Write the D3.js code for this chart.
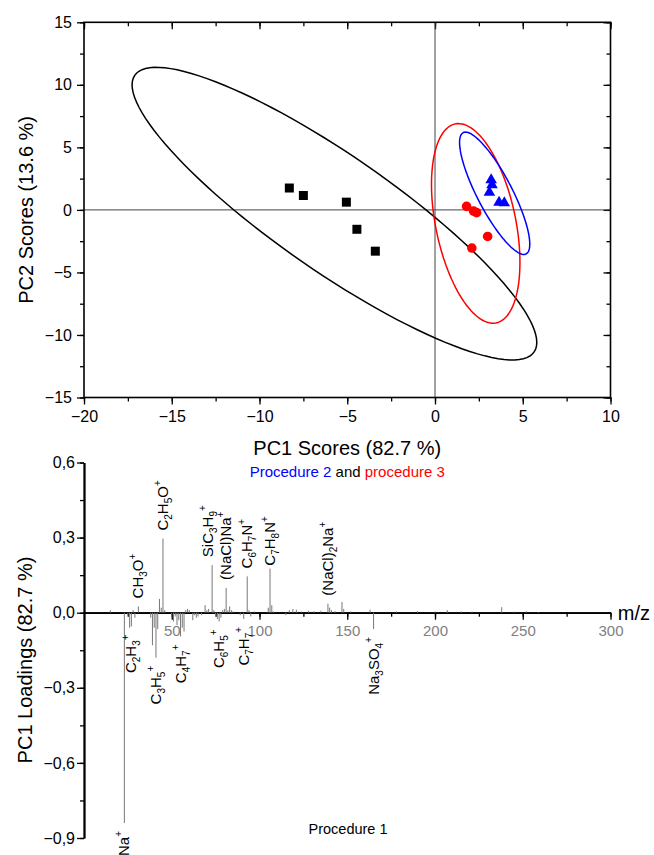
<!DOCTYPE html>
<html>
<head>
<meta charset="utf-8">
<script src="https://cdn.jsdelivr.net/npm/d3@7"></script>
<style>
  body { margin: 0; background: #fff; }
  text { font-family: "Liberation Sans", Arial, sans-serif; }
</style>
</head>
<body>
<div id="chart"></div>
<script>
// ---- score plot data (PC1, PC2) ----
const proc1Scores = [[-8.3, 1.75], [-7.5, 1.15], [-5.05, 0.62], [-4.45, -1.55], [-3.4, -3.3]];
const proc2Scores = [[3.2, 2.4], [3.25, 2.0], [3.1, 1.4], [3.65, 0.6], [3.95, 0.55]];
const proc3Scores = [[1.8, 0.28], [2.2, -0.1], [2.37, -0.22], [3.0, -2.12], [2.1, -3.05]];

// confidence ellipses: cx, cy, half-range x, half-range y, correlation
const ellipse1 = [-5.73, -0.3, 11.53, 11.7, -0.88];
const ellipse2 = [3.4, 1.33, 2.0, 4.89, -0.83];
const ellipse3 = [2.32, -1.08, 2.52, 7.98, -0.39];

const scoreXTicks = [-20, -15, -10, -5, 0, 5, 10];
const scoreYTicks = [-15, -10, -5, 0, 5, 10, 15];

// ---- loadings data [m/z, PC1 loading] ----
const loadings = [
  [15, 0.01], [23, -0.84], [25, -0.015], [26, -0.06], [27, -0.055], [28, 0.01], [29, -0.02],
  [31, 0.025], [38, -0.02], [39, -0.13], [40, -0.06], [41, -0.18], [42, -0.065], [43, 0.055],
  [44, 0.02], [45, 0.296], [46, 0.01], [50, -0.02], [51, -0.035], [52, -0.015], [53, -0.05],
  [54, -0.03], [55, -0.095], [56, -0.06], [57, -0.075], [58, 0.01], [59, 0.015], [60, 0.01],
  [62, -0.03], [63, -0.01], [64, -0.02], [65, -0.015], [67, -0.01], [69, 0.03], [70, 0.01],
  [71, 0.015], [73, 0.19], [74, 0.01], [75, -0.015], [76, -0.025], [77, -0.035], [78, -0.02],
  [79, 0.01], [80, 0.015], [81, 0.099], [82, 0.01], [83, 0.025], [84, 0.01], [85, 0.005],
  [89, -0.01], [91, -0.025], [93, 0.145], [94, 0.01], [95, -0.015], [97, 0.005], [105, 0.02],
  [106, 0.176], [107, 0.03], [108, 0.005], [115, -0.01], [117, 0.01], [119, 0.015], [121, 0.012],
  [124, 0.005], [128, 0.008], [131, 0.006], [135, 0.008], [139, 0.036], [140, 0.02], [141, 0.01],
  [143, 0.006], [147, 0.043], [148, 0.015], [152, 0.005], [163, 0.012], [165, -0.065],
  [178, 0.005], [190, 0.006], [200, 0.005], [207, 0.01], [215, 0.005], [221, 0.004],
  [238, 0.022], [245, 0.004], [252, 0.006], [259, 0.003]
];

// peak assignments ( _x = subscript, ^x = superscript )
const peakLabels = [
  [23, "Na^+"], [27, "C_2H_3^+"], [31, "CH_3O^+"], [41, "C_3H_5^+"], [45, "C_2H_5O^+"],
  [55, "C_4H_7^+"], [73, "SiC_3H_9^+"], [77, "C_6H_5^+"], [81, "(NaCl)Na^+"], [91, "C_7H_7^+"],
  [93, "C_6H_7N^+"], [106, "C_7H_8N^+"], [139, "(NaCl)_2Na^+"], [165, "Na_3SO_4^+"]
];

const loadXTicks = [50, 100, 150, 200, 250, 300];
const loadYTicks = [-0.9, -0.6, -0.3, 0.0, 0.3, 0.6];

// ---- layout ----
const W = 654, H = 855;
const svg = d3.select("#chart").append("svg").attr("width", W).attr("height", H);
svg.append("rect").attr("width", W).attr("height", H).attr("fill", "#fff");

const fmtComma = d => d3.format(".1f")(d).replace(".", ",");
// small hand nudges for crowded labels
const labelNudge = { "SiC_3H_9^+": [-4, 0], "C_7H_8N^+": [0, 5] };

/* ================= score plot ================= */
const x1 = d3.scaleLinear().domain([-20, 10]).range([84, 610.5]);
const y1 = d3.scaleLinear().domain([-15, 15]).range([397.5, 22.3]);

const gTop = svg.append("g");
const minorX1 = d3.range(-20, 10.01, 2.5);
const minorY1 = d3.range(-15, 15.01, 2.5);

// bottom
gTop.append("g").attr("transform", `translate(0,${y1(-15)})`)
  .call(d3.axisBottom(x1).tickValues(minorX1).tickSize(4).tickFormat(""));
gTop.append("g").attr("transform", `translate(0,${y1(-15)})`)
  .call(d3.axisBottom(x1).tickValues(scoreXTicks).tickSize(7).tickPadding(6))
  .selectAll("text").attr("font-size", 16).attr("fill", "#000");
// top (ticks point down)
gTop.append("g").attr("transform", `translate(0,${y1(15)})`)
  .call(d3.axisTop(x1).tickValues(minorX1).tickSize(-4).tickFormat(""));
gTop.append("g").attr("transform", `translate(0,${y1(15)})`)
  .call(d3.axisTop(x1).tickValues(scoreXTicks).tickSize(-7).tickFormat(""));
// left
gTop.append("g").attr("transform", `translate(${x1(-20)},0)`)
  .call(d3.axisLeft(y1).tickValues(minorY1).tickSize(4).tickFormat(""));
gTop.append("g").attr("transform", `translate(${x1(-20)},0)`)
  .call(d3.axisLeft(y1).tickValues(scoreYTicks).tickSize(7).tickPadding(5))
  .selectAll("text").attr("font-size", 16).attr("fill", "#000");
// right (ticks point left)
gTop.append("g").attr("transform", `translate(${x1(10)},0)`)
  .call(d3.axisRight(y1).tickValues(minorY1).tickSize(-4).tickFormat(""));
gTop.append("g").attr("transform", `translate(${x1(10)},0)`)
  .call(d3.axisRight(y1).tickValues(scoreYTicks).tickSize(-7).tickFormat(""));
gTop.selectAll(".domain").remove();
gTop.selectAll(".tick line").attr("stroke", "#000").attr("stroke-width", 1.3);

// zero lines
gTop.append("line").attr("x1", x1(-20)).attr("x2", x1(10)).attr("y1", y1(0)).attr("y2", y1(0))
  .attr("stroke", "#444").attr("stroke-width", 1);
gTop.append("line").attr("x1", x1(0)).attr("x2", x1(0)).attr("y1", y1(15)).attr("y2", y1(-15))
  .attr("stroke", "#444").attr("stroke-width", 1);

// frame
gTop.append("rect").attr("x", x1(-20)).attr("y", y1(15))
  .attr("width", x1(10) - x1(-20)).attr("height", y1(-15) - y1(15))
  .attr("fill", "none").attr("stroke", "#000").attr("stroke-width", 1.6);

// ellipses
function ellipsePath(e) {
  const [cx, cy, rx, ry, r] = e;
  const phi = Math.acos(r);
  const pts = d3.range(0, 361, 3).map(a => {
    const t = a * Math.PI / 180;
    return [x1(cx + rx * Math.cos(t)), y1(cy + ry * Math.cos(t - phi))];
  });
  return d3.line()(pts) + "Z";
}
[[ellipse1, "#000"], [ellipse3, "#ff0000"], [ellipse2, "#0000ff"]].forEach(([e, c]) => {
  gTop.append("path").attr("d", ellipsePath(e)).attr("fill", "none")
    .attr("stroke", c).attr("stroke-width", 1.5);
});

// markers
gTop.append("g").selectAll("path").data(proc1Scores).join("path")
  .attr("transform", d => `translate(${x1(d[0])},${y1(d[1])})`)
  .attr("d", d3.symbol(d3.symbolSquare, 81)).attr("fill", "#000");
gTop.append("g").selectAll("path").data(proc3Scores).join("path")
  .attr("transform", d => `translate(${x1(d[0])},${y1(d[1])})`)
  .attr("d", d3.symbol(d3.symbolCircle, 72)).attr("fill", "#ff0000");
gTop.append("g").selectAll("path").data(proc2Scores).join("path")
  .attr("transform", d => `translate(${x1(d[0])},${y1(d[1])})`)
  .attr("d", d3.symbol(d3.symbolTriangle, 58)).attr("fill", "#0000ff");

// titles
svg.append("text").attr("x", (x1(-20) + x1(10)) / 2).attr("y", 455)
  .attr("text-anchor", "middle").attr("font-size", 20).text("PC1 Scores (82.7 %)");
svg.append("text").attr("transform", `translate(33,${(y1(15) + y1(-15)) / 2}) rotate(-90)`)
  .attr("text-anchor", "middle").attr("font-size", 20).text("PC2 Scores (13.6 %)");

const legendText = svg.append("text").attr("x", (x1(-20) + x1(10)) / 2).attr("y", 477)
  .attr("text-anchor", "middle").attr("font-size", 15);
legendText.append("tspan").attr("fill", "#0000ff").text("Procedure 2");
legendText.append("tspan").attr("fill", "#000").text(" and ");
legendText.append("tspan").attr("fill", "#ff0000").text("procedure 3");

/* ================= loadings plot ================= */
const x2 = d3.scaleLinear().domain([0, 300]).range([84, 610.5]);
const y2 = d3.scaleLinear().domain([-0.9, 0.6]).range([838, 462.5]);

const gBot = svg.append("g");

// y axis
gBot.append("g").attr("transform", `translate(${x2(0)},0)`)
  .call(d3.axisLeft(y2).tickValues(d3.range(-0.9, 0.61, 0.15)).tickSize(4).tickFormat("").tickSizeOuter(0));
gBot.append("g").attr("transform", `translate(${x2(0)},0)`)
  .call(d3.axisLeft(y2).tickValues(loadYTicks).tickSize(7).tickPadding(2).tickFormat(fmtComma).tickSizeOuter(0))
  .selectAll("text").attr("font-size", 16).attr("fill", "#000");

// x axis at zero
gBot.append("g").attr("transform", `translate(0,${y2(0)})`)
  .call(d3.axisBottom(x2).tickValues(d3.range(25, 301, 25)).tickSize(4).tickFormat("").tickSizeOuter(0));
gBot.append("g").attr("transform", `translate(0,${y2(0)})`)
  .call(d3.axisBottom(x2).tickValues(loadXTicks).tickSize(7).tickPadding(6).tickSizeOuter(0))
  .selectAll("text").attr("font-size", 15).attr("fill", "#808080");
gBot.selectAll(".domain").attr("stroke", "#000").attr("stroke-width", 1.8);
gBot.selectAll(".tick line").attr("stroke", "#000").attr("stroke-width", 1.3);

// bars
gBot.append("g").selectAll("line").data(loadings).join("line")
  .attr("x1", d => x2(d[0])).attr("x2", d => x2(d[0]))
  .attr("y1", y2(0)).attr("y2", d => y2(d[1]))
  .attr("stroke", "#777").attr("stroke-width", 1);

// peak labels
const valueOf = new Map(loadings);
function formula(textSel, f) {
  let shift = 0;
  for (let i = 0; i < f.length; i++) {
    let ch = f[i], target = 0, size = 15;
    if (ch === "_" || ch === "^") {
      target = ch === "_" ? 4 : -7;
      ch = f[++i];
      size = 10;
    } else {
      let j = i;
      while (j + 1 < f.length && f[j + 1] !== "_" && f[j + 1] !== "^") j++;
      ch = f.slice(i, j + 1);
      i = j;
    }
    textSel.append("tspan").attr("dy", target - shift).attr("font-size", size).text(ch);
    shift = target;
  }
}
peakLabels.forEach(([mz, f]) => {
  const v = valueOf.get(mz);
  const nud = labelNudge[f] || [0, 0];
  const px = x2(mz) + 5 + nud[0];
  const py = v >= 0 ? y2(v) - 8 + nud[1] : y2(v) + 8 + nud[1];
  const t = gBot.append("text")
    .attr("transform", `translate(${px},${py}) rotate(-90)`)
    .attr("text-anchor", v >= 0 ? "start" : "end")
    .attr("font-size", 15).attr("fill", "#000");
  formula(t, f);
});

// labels
svg.append("text").attr("x", 650).attr("y", 620).attr("text-anchor", "end")
  .attr("font-size", 20).text("m/z");
svg.append("text").attr("transform", `translate(32,660) rotate(-90)`)
  .attr("text-anchor", "middle").attr("font-size", 20).text("PC1 Loadings (82.7 %)");
svg.append("text").attr("x", 348).attr("y", 834).attr("text-anchor", "middle")
  .attr("font-size", 14.5).text("Procedure 1");
</script>
</body>
</html>
